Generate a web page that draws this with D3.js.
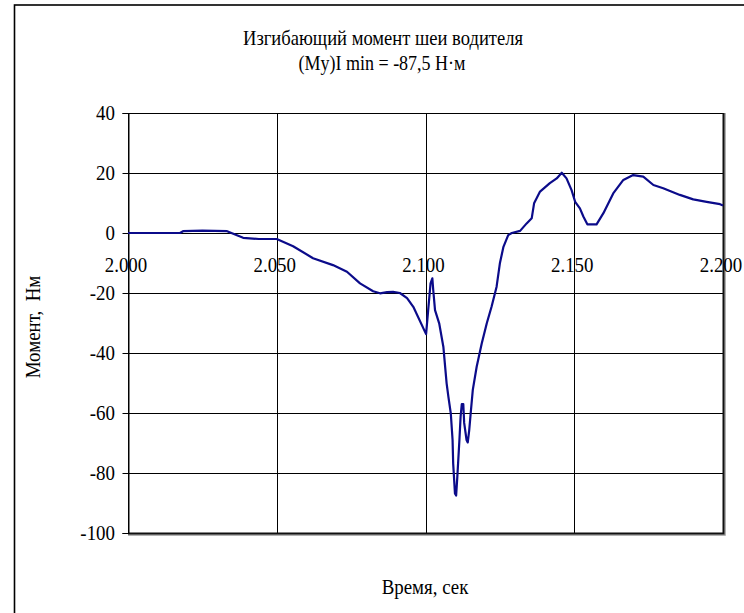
<!DOCTYPE html>
<html>
<head>
<meta charset="utf-8">
<script src="https://cdn.jsdelivr.net/npm/d3@7"></script>
<style>
  body { margin: 0; background: #fff; }
  text { font-family: "Liberation Serif", "Times New Roman", serif; fill: #000; }
</style>
</head>
<body>
<div id="chart"></div>
<script>
var svgWidth = 744;
var svgHeight = 613;

// plot area inside the frame
var margin = { top: 113, right: 21, bottom: 80, left: 128 };
var width = svgWidth - margin.left - margin.right;
var height = svgHeight - margin.top - margin.bottom;

// Data
var titleLines = ["Изгибающий момент шеи водителя", "(My)I min = -87,5 Н·м"];
var xTicks = [2.000, 2.050, 2.100, 2.150, 2.200];
var yTicks = [40, 20, 0, -20, -40, -60, -80, -100];

var time = [
  2.0000, 2.0175, 2.0185, 2.0250, 2.0333, 2.0387, 2.0440, 2.0500, 2.0555, 2.0622,
  2.0689, 2.0736, 2.0780, 2.0824, 2.0847, 2.0871, 2.0891, 2.0914, 2.0938, 2.0959,
  2.1002, 2.1009, 2.1017, 2.1023, 2.1026, 2.1032, 2.1046, 2.1060, 2.1071, 2.1077,
  2.1085, 2.1091, 2.1093, 2.1099, 2.1103, 2.1107, 2.1114, 2.1118, 2.1122, 2.1127,
  2.1130, 2.1138, 2.1142, 2.1147, 2.1152, 2.1159, 2.1172, 2.1189, 2.1206, 2.1222,
  2.1239, 2.1250, 2.1262, 2.1278, 2.1290, 2.1318, 2.1340, 2.1357, 2.1365, 2.1385,
  2.1418, 2.1441, 2.1458, 2.1474, 2.1491, 2.1503, 2.1519, 2.1531, 2.1544, 2.1575,
  2.1598, 2.1631, 2.1665, 2.1698, 2.1732, 2.1766, 2.1799, 2.1855, 2.1900, 2.1945,
  2.1990, 2.2000
];
var moment = [
  0.0, 0.0, 0.6, 0.8, 0.6, -1.6, -2.0, -2.0, -4.4, -8.4,
  -10.7, -12.9, -16.8, -19.4, -20.1, -19.7, -19.6, -20.0, -21.7, -24.6,
  -33.7, -25.7, -16.8, -15.1, -19.0, -25.7, -30.1, -37.9, -50.1, -54.6,
  -60.1, -69.0, -76.8, -86.8, -87.5, -81.2, -69.0, -61.2, -57.0, -57.0,
  -63.3, -69.0, -69.8, -65.7, -60.0, -52.3, -44.6, -36.8, -30.1, -24.6,
  -17.9, -10.1, -4.6, -0.7, 0.0, 0.7, 3.2, 4.9, 9.9, 13.8,
  16.6, 18.2, 20.1, 18.2, 14.3, 10.4, 8.2, 5.4, 2.9, 2.9,
  6.6, 13.2, 17.7, 19.3, 18.8, 16.0, 14.9, 12.7, 11.2, 10.4,
  9.6, 9.2
];

var dataset = time.map(function(t, i) { return { t: t, m: moment[i] }; });

var svg = d3.select("#chart")
  .append("svg")
  .attr("width", svgWidth)
  .attr("height", svgHeight);

// outer chart frame (right and bottom edges fall outside the picture)
svg.append("rect")
  .attr("x", 14.5)
  .attr("y", 5)
  .attr("width", 760)
  .attr("height", 640)
  .attr("fill", "none")
  .attr("stroke", "#000")
  .attr("stroke-width", 1.6);

var chartGroup = svg.append("g")
  .attr("transform", `translate(${margin.left}, ${margin.top})`);

var xScale = d3.scaleLinear()
  .domain([2.0, 2.2])
  .range([0, width]);

var yScale = d3.scaleLinear()
  .domain([-100, 40])
  .range([height, 0]);

// gridlines
chartGroup.append("g")
  .selectAll("line")
  .data(yTicks)
  .enter()
  .append("line")
  .attr("x1", 0)
  .attr("x2", width)
  .attr("y1", d => Math.round(yScale(d)) + 0.5)
  .attr("y2", d => Math.round(yScale(d)) + 0.5)
  .attr("stroke", "#000")
  .attr("stroke-width", 1);

chartGroup.append("g")
  .selectAll("line")
  .data(xTicks)
  .enter()
  .append("line")
  .attr("x1", d => Math.round(xScale(d)) + 0.5)
  .attr("x2", d => Math.round(xScale(d)) + 0.5)
  .attr("y1", 0)
  .attr("y2", height)
  .attr("stroke", "#000")
  .attr("stroke-width", 1);

// shadowed right/bottom edge of the plot area
chartGroup.append("path")
  .attr("d", `M0,${height + 2} H${width + 2} V0`)
  .attr("fill", "none")
  .attr("stroke", "#999")
  .attr("stroke-width", 1.5);
chartGroup.append("path")
  .attr("d", `M0,${height + 0.5} H${width + 0.5} V0`)
  .attr("fill", "none")
  .attr("stroke", "#111")
  .attr("stroke-width", 2);

// y axis with outside ticks (plain hyphen for negatives, as in the original)
var yAxis = d3.axisLeft(yScale)
  .tickValues(yTicks)
  .tickSize(6)
  .tickPadding(8)
  .tickFormat(d => String(d));

var yAxisG = chartGroup.append("g")
  .attr("transform", "translate(0.5, 0)")
  .call(yAxis);
yAxisG.select(".domain").attr("stroke", "#000");
yAxisG.selectAll(".tick line").attr("stroke", "#000");
yAxisG.selectAll(".tick text")
  .style("font-family", "'Liberation Serif', serif")
  .style("font-size", "21px")
  .attr("x", -15)
  .attr("transform", "scale(0.9, 1)");

// x tick labels sit just under the zero line
chartGroup.append("g")
  .selectAll("text")
  .data(xTicks)
  .enter()
  .append("text")
  .attr("transform", d => `translate(${xScale(d) - 2}, ${yScale(0) + 39}) scale(0.9, 1)`)
  .attr("text-anchor", "middle")
  .style("font-size", "21px")
  .text(d => d3.format(".3f")(d));

// the curve
var line = d3.line()
  .x(d => xScale(d.t))
  .y(d => yScale(d.m));

chartGroup.append("path")
  .datum(dataset)
  .attr("d", line)
  .attr("fill", "none")
  .attr("stroke", "#0b0b8a")
  .attr("stroke-width", 2.2)
  .attr("stroke-linejoin", "round");

// titles
svg.append("text")
  .attr("x", 383)
  .attr("y", 45)
  .attr("text-anchor", "middle")
  .attr("textLength", 280)
  .attr("lengthAdjust", "spacingAndGlyphs")
  .style("font-size", "21px")
  .text(titleLines[0]);

svg.append("text")
  .attr("x", 382)
  .attr("y", 70)
  .attr("text-anchor", "middle")
  .attr("textLength", 167)
  .attr("lengthAdjust", "spacingAndGlyphs")
  .style("font-size", "21px")
  .text(titleLines[1]);

// axis titles
svg.append("text")
  .attr("transform", "translate(40, 327) rotate(-90) scale(0.9, 1)")
  .attr("text-anchor", "middle")
  .style("font-size", "21px")
  .style("white-space", "pre")
  .text("Момент,  Нм");

svg.append("text")
  .attr("transform", "translate(425, 594) scale(0.9, 1)")
  .attr("text-anchor", "middle")
  .style("font-size", "21px")
  .text("Время, сек");
</script>
</body>
</html>
